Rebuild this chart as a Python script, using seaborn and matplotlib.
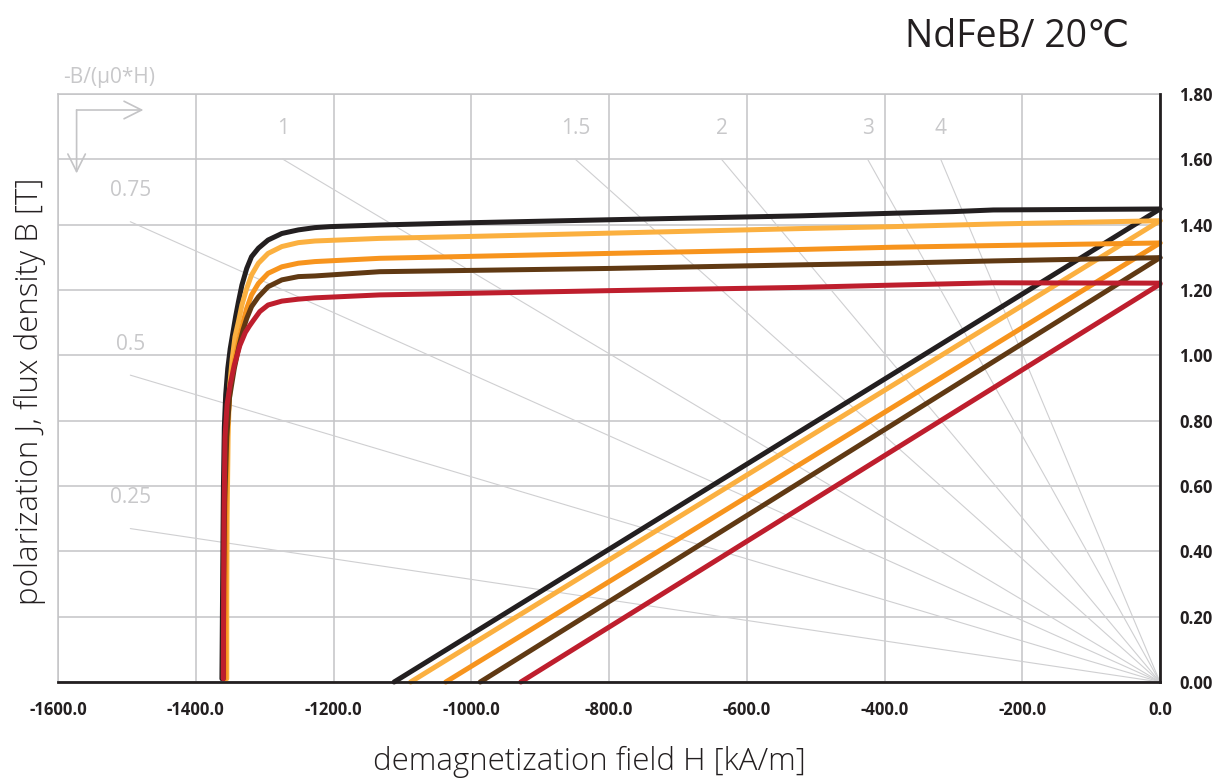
import numpy as np
import pandas as pd
import matplotlib
matplotlib.use("Agg")
import matplotlib.pyplot as plt
import seaborn as sns

# ---------------- data ----------------
grades = ["G1", "G2", "G3", "G4", "G5"]
colors = ["#231f20", "#fbb040", "#f7941d", "#603913", "#be1e2d"]

# recoil (B) lines: remanence at H=0 and coercivity HcB at B=0
Br = [1.448, 1.412, 1.344, 1.299, 1.218]
HcB = [-1112, -1088, -1037, -987, -928]

# intrinsic (J) curves
g1_H = [0, -242, -300, -387, -523, -800, -1000, -1133, -1205, -1227, -1251, -1275, -1295, -1309,
        -1319, -1326, -1333, -1338, -1342, -1346, -1350, -1353.5, -1356.5, -1358.5, -1359.8, -1360.8,
        -1361.5, -1362]
g1_J = [1.448, 1.445, 1.440, 1.435, 1.427, 1.415, 1.406, 1.399, 1.394, 1.391, 1.384, 1.373, 1.353, 1.328,
        1.302, 1.266, 1.215, 1.164, 1.120, 1.070, 1.020, 0.960, 0.880, 0.780, 0.600, 0.350,
        0.150, 0.010]

g2_H = [0, -242, -387, -523, -800, -1000, -1133, -1227, -1251, -1275, -1295, -1309, -1319, -1326,
        -1333, -1338, -1343, -1347, -1351, -1353, -1354.5, -1355, -1355]
g2_J = [1.412, 1.402, 1.394, 1.388, 1.374, 1.364, 1.358, 1.350, 1.345, 1.333, 1.312, 1.282, 1.246, 1.205,
        1.154, 1.103, 1.057, 0.990, 0.900, 0.750, 0.500, 0.250, 0.010]

g3_H = [0, -242, -387, -523, -800, -1000, -1133, -1227, -1251, -1275, -1295, -1309, -1319, -1326,
        -1331, -1337, -1343, -1350, -1354, -1356, -1357, -1357.5]
g3_J = [1.344, 1.336, 1.331, 1.324, 1.312, 1.303, 1.297, 1.287, 1.282, 1.271, 1.251, 1.220, 1.185, 1.144,
        1.103, 1.050, 0.990, 0.900, 0.780, 0.600, 0.300, 0.010]

g4_H = [0, -242, -387, -523, -800, -1000, -1133, -1227, -1251, -1275, -1295, -1309, -1319, -1326,
        -1331, -1337, -1344, -1351, -1355, -1358, -1359.5, -1360]
g4_J = [1.299, 1.289, 1.282, 1.277, 1.266, 1.260, 1.256, 1.243, 1.241, 1.231, 1.210, 1.179, 1.149, 1.113,
        1.080, 1.030, 0.960, 0.870, 0.750, 0.550, 0.300, 0.010]

g5_H = [0, -242, -387, -523, -800, -1000, -1133, -1227, -1251, -1275, -1295, -1307, -1316, -1322,
        -1328, -1336, -1344, -1350, -1354.5, -1357.5, -1359, -1359.4, -1360]
g5_J = [1.221, 1.222, 1.215, 1.208, 1.198, 1.190, 1.185, 1.176, 1.172, 1.166, 1.154, 1.134, 1.108, 1.090,
        1.070, 1.030, 0.970, 0.910, 0.850, 0.750, 0.496, 0.292, 0.010]

J_H = [g1_H, g2_H, g3_H, g4_H, g5_H]
J_J = [g1_J, g2_J, g3_J, g4_J, g5_J]

# permeance coefficients -B/(mu0*H)
perm = [0.25, 0.5, 0.75, 1, 1.5, 2, 3, 4]
perm_labels = ["0.25", "0.5", "0.75", "1", "1.5", "2", "3", "4"]

xticks = [-1600, -1400, -1200, -1000, -800, -600, -400, -200, 0]
xtick_labels = ["-1600.0", "-1400.0", "-1200.0", "-1000.0", "-800.0", "-600.0", "-400.0", "-200.0", "0.0"]
yticks = [0, 0.2, 0.4, 0.6, 0.8, 1.0, 1.2, 1.4, 1.6, 1.8]
ytick_labels = ["0.00", "0.20", "0.40", "0.60", "0.80", "1.00", "1.20", "1.40", "1.60", "1.80"]

title = "NdFeB/ 20\u2103"
xlabel = "demagnetization field H [kA/m]"
ylabel = "polarization J, flux density B [T]"
perm_title = "-B/(\u03bc0*H)"

# ---------------- build table ----------------
rows = []
for g, h, j, br, hc in zip(grades, J_H, J_J, Br, HcB):
    rows.append(pd.DataFrame({"H": [hc, 0], "B": [0, br], "grade": g, "seg": g + "_B"}))
    rows.append(pd.DataFrame({"H": h, "B": j, "grade": g, "seg": g + "_J"}))
df = pd.concat(rows, ignore_index=True)

# ---------------- plot ----------------
sns.set_theme(style="white")
plt.rcParams["font.family"] = ["Open Sans", "DejaVu Sans"]
plt.rcParams["axes.unicode_minus"] = False

fig = plt.figure(figsize=(12.17, 7.81), dpi=100)
ax = fig.add_axes([58 / 1217, 1 - 682 / 781, (1160 - 58) / 1217, (682 - 94) / 781])

grid_c = "#c4c4c6"
load_c = "#cfcfd1"
txt_grey = "#c8c8ca"
dark = "#231f20"

ax.set_xlim(-1600, 0)
ax.set_ylim(0, 1.8)
ax.set_axisbelow(True)
ax.grid(True, color=grid_c, lw=1.1)

# load lines from the origin
mu0 = 4e-7 * np.pi * 1e3  # T per kA/m
for p, lab in zip(perm, perm_labels):
    h_end = -min(1495.0, 1.6 / (p * mu0))
    b_end = -p * mu0 * h_end
    sns.lineplot(x=[0, h_end], y=[0, b_end], ax=ax, color=load_c, lw=0.8, zorder=1, legend=False)
    ax.text(h_end, b_end + 0.095, lab, color=txt_grey, fontsize=15, ha="center", va="center")

# magnet curves
sns.lineplot(data=df, x="H", y="B", hue="grade", units="seg", estimator=None, sort=False,
             palette=dict(zip(grades, colors)), hue_order=grades, lw=3.6, legend=False, ax=ax,
             zorder=2)
for ln in ax.lines:
    if ln.get_linewidth() > 2:
        ln.set_solid_joinstyle("round")
        ln.set_clip_on(False)

# arrows for the permeance scale
arrow_kw = dict(arrowstyle="->,head_length=0.9,head_width=0.45", color="#c4c4c6", lw=1.2,
                mutation_scale=14, shrinkA=0, shrinkB=0)
ax.annotate("", xy=(-1476, 1.751), xytext=(-1573, 1.751), arrowprops=arrow_kw, annotation_clip=False)
ax.annotate("", xy=(-1573, 1.557), xytext=(-1573, 1.751), arrowprops=arrow_kw, annotation_clip=False)
ax.text(-1593, 1.85, perm_title, color=txt_grey, fontsize=15, ha="left", va="center", clip_on=False)

# axes styling
ax.set_xticks(xticks)
ax.set_xticklabels(xtick_labels)
ax.set_yticks(yticks)
ax.set_yticklabels(ytick_labels)
ax.yaxis.tick_right()
ax.yaxis.set_label_position("left")
ax.tick_params(axis="both", length=0, labelsize=12, labelcolor=dark)
ax.tick_params(axis="x", pad=14)
ax.tick_params(axis="y", pad=14)
for lbl in ax.get_xticklabels() + ax.get_yticklabels():
    lbl.set_fontweight("bold")

for side in ["top", "left"]:
    ax.spines[side].set_color(grid_c)
    ax.spines[side].set_linewidth(1.1)
for side in ["bottom", "right"]:
    ax.spines[side].set_color(dark)
    ax.spines[side].set_linewidth(2.0)
    ax.spines[side].set_zorder(3)

ax.set_xlabel(xlabel, fontsize=22.5, color=dark, fontweight="light", va="center")
ax.xaxis.set_label_coords((589 - 58) / 1102, -(762 - 682) / 588)
ax.set_ylabel(ylabel, fontsize=22.5, color=dark, fontweight="light", va="center")
ax.yaxis.set_label_coords((30 - 58) / 1102, (682 - 391) / 588)

fig.text(905 / 1217, 1 - 47 / 781, title, fontsize=27, color=dark, ha="left", va="baseline")

fig.savefig("out.png", dpi=100)
